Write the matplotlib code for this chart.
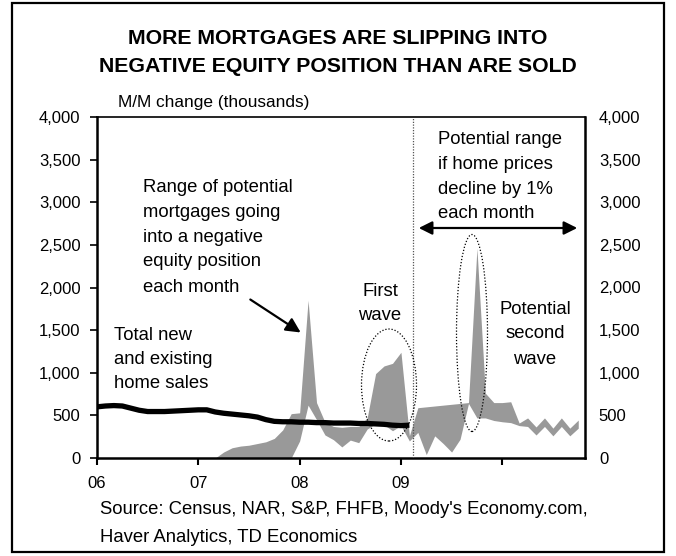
import matplotlib
matplotlib.use("Agg")
import matplotlib.pyplot as plt
from matplotlib.patches import Ellipse, Rectangle, FancyArrowPatch

plt.rcParams['font.family'] = ['Liberation Sans', 'DejaVu Sans']

# ---------------- data (month index: 0 = Jan 2006) ----------------
sales_months = list(range(0, 38))
home_sales = [600, 610, 615, 610, 585, 560, 545, 545, 545, 550, 555, 560,
              565, 565, 540, 525, 515, 505, 495, 480, 450, 430, 425, 425,
              420, 420, 415, 415, 410, 410, 410, 405, 405, 400, 395, 385,
              380, 385]

band_months = list(range(12, 58))
band_a = [0, 0, 0, 70, 120, 140, 150, 170, 190, 230, 330, 520,
          530, 1850, 650, 420, 370, 360, 370, 370, 470, 990, 1080, 1110,
          1240, 260, 590, 600, 610, 620, 630, 640, 650, 2460, 760, 650,
          650, 660, 410, 470, 364, 470, 350, 470, 350, 445]
band_b = [0, 0, 0, 0, 0, 0, 0, 0, 0, 0, 0, 0,
          200, 620, 450, 270, 215, 130, 210, 180, 340, 400, 390, 320,
          380, 200, 300, 40, 260, 170, 70, 220, 640, 470, 470, 440,
          425, 415, 380, 370, 270, 370, 260, 370, 260, 350]

year_ticks = [0, 12, 24, 36, 48]
year_labels = ['06', '07', '08', '09', '']
y_ticks = [0, 500, 1000, 1500, 2000, 2500, 3000, 3500, 4000]

title_lines = ['MORE MORTGAGES ARE SLIPPING INTO',
               'NEGATIVE EQUITY POSITION THAN ARE SOLD']
range_note = ['Range of potential', 'mortgages going', 'into a negative',
              'equity position', 'each month']
sales_note = ['Total new', 'and existing', 'home sales']
first_note = ['First', 'wave']
second_note = ['Potential', 'second', 'wave']
proj_note = ['Potential range', 'if home prices', 'decline by 1%', 'each month']
source_lines = ["Source: Census, NAR, S&P, FHFB, Moody's Economy.com,",
                'Haver Analytics, TD Economics']

W, H = 676, 556
fig = plt.figure(figsize=(W / 100, H / 100), dpi=100)


def fx(x):
    return x / W


def fy(y):
    return 1 - y / H


# outer frame
fig.patches.append(Rectangle((fx(12), fy(552)), fx(664) - fx(12), fy(3) - fy(552),
                             transform=fig.transFigure, fill=False,
                             edgecolor='black', linewidth=1.6))

L, R, T, B = 97, 585, 117, 458
ax = fig.add_axes([fx(L), fy(B), fx(R) - fx(L), fy(T) - fy(B)])
ax.set_xlim(0, 57.8)
ax.set_ylim(0, 4000)

ax.fill_between(band_months, band_a, band_b, color='#999999', linewidth=0, zorder=2)
ax.plot(sales_months, home_sales, color='black', linewidth=3.8,
        solid_capstyle='butt', zorder=3)

# vertical dotted line (start of projection)
ax.axvline(37.4, color='#555555', linewidth=0.9, linestyle=(0, (1, 1.2)), zorder=4)

for s in ax.spines.values():
    s.set_linewidth(1.8)
ax.spines['top'].set_linewidth(1.2)

ax.set_xticks(year_ticks)
ax.set_xticklabels(year_labels)
ax.set_yticks(y_ticks)
ax.set_yticklabels([f'{v:,}' for v in y_ticks])
ax.tick_params(axis='x', direction='out', length=5, width=1.5, labelsize=12, pad=8)
ax.tick_params(axis='y', direction='out', length=5, width=1.2, labelsize=12, pad=7)

ax2 = ax.twinx()
ax2.set_ylim(0, 4000)
ax2.set_yticks(y_ticks)
ax2.set_yticklabels([f'{v:,}' for v in y_ticks])
ax2.tick_params(axis='y', direction='out', length=0, labelsize=12, pad=10)
for s in ax2.spines.values():
    s.set_visible(False)


def axfrac(x, y):
    return ((x - L) / (R - L), (B - y) / (B - T))


for cx, cy, w, h in [(389, 385, 55, 112), (472, 333, 31, 197)]:
    e = Ellipse(axfrac(cx, cy), w / (R - L), h / (B - T), transform=ax.transAxes,
                fill=False, edgecolor='black', linewidth=0.9,
                linestyle=(0, (1, 1.5)), zorder=5)
    ax.add_patch(e)

# titles
for line, yy in zip(title_lines, [38, 67]):
    fig.text(fx(338), fy(yy), line, ha='center', va='center',
             fontsize=15.3, fontweight='bold')
fig.text(fx(118), fy(103), 'M/M change (thousands)', ha='left', va='center', fontsize=12.4)

fs = 13.3


def block(lines, x, ys, ha):
    for line, yy in zip(lines, ys):
        fig.text(fx(x), fy(yy), line, ha=ha, va='center', fontsize=fs)


block(range_note, 143, [188, 212, 237, 262, 287], 'left')
block(sales_note, 114, [335, 359, 383], 'left')
block(first_note, 380, [291, 316], 'center')
block(second_note, 535, [310, 334, 359], 'center')
block(proj_note, 438, [140, 165, 189, 213], 'left')

fig.add_artist(FancyArrowPatch(
    (fx(248), fy(298)), (fx(303), fy(334)), transform=fig.transFigure,
    arrowstyle='-|>', mutation_scale=22, linewidth=1.6, color='black'))
fig.add_artist(FancyArrowPatch(
    (fx(416), fy(228)), (fx(580), fy(228)), transform=fig.transFigure,
    arrowstyle='<|-|>', mutation_scale=20, linewidth=1.6, color='black'))

for line, yy in zip(source_lines, [510, 538]):
    fig.text(fx(100), fy(yy), line, ha='left', va='center', fontsize=13.3)

fig.savefig('out.png', dpi=100)
